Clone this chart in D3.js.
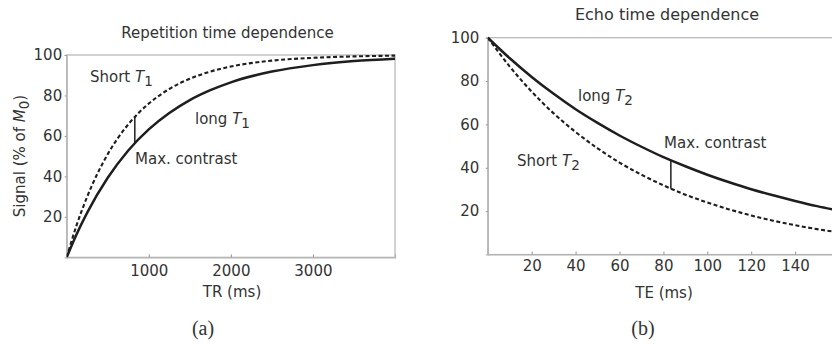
<!DOCTYPE html>
<html><head><meta charset="utf-8">
<script src="https://cdn.jsdelivr.net/npm/d3@7"></script>
<style>
html,body{margin:0;padding:0;background:#fff;}
text{font-family:"DejaVu Sans",sans-serif;fill:#333;}
</style></head>
<body>
<svg id="c" width="832" height="347"></svg>
<script>
// ---- Data ----
const trValues   = [0,125,250,500,750,1000,1250,1500,1750,2000,2500,3000,3500,4000];
const shortT1    = [0,16.4,30.0,51.0,65.7,76.0,83.2,88.3,91.8,94.3,97.2,98.6,99.3,99.7];
const longT1     = [0,11.8,22.1,39.3,52.8,63.2,71.3,77.7,82.6,86.5,91.8,95.0,97.0,98.2];
const trTicks    = [1000,2000,3000];
const signalTicksA = [20,40,60,80,100];
const contrastA  = {x:830, top:69.5, bottom:56.4};

const teValues   = [0,10,20,30,40,50,60,70,80,90,100,110,120,130,140,150,160];
const longT2     = [100,90.5,81.9,74.1,67.0,60.7,54.9,49.7,44.9,40.7,36.8,33.3,30.1,27.3,24.7,22.3,20.2];
const shortT2    = [100,86.7,75.1,65.1,56.5,49.0,42.4,36.8,31.9,27.6,24.0,20.8,18.0,15.6,13.5,11.7,10.2];
const teTicks    = [20,40,60,80,100,120,140];
const signalTicksB = [20,40,60,80,100];
const contrastB  = {x:83.4, top:43.4, bottom:30.3};

const svg = d3.select("#c");
const ink = "#1e1e1e", frame = "#b4b4b4";

function panel(o){
  const g = svg.append("g");
  const x = d3.scaleLinear().domain(o.xDomain).range(o.xRange);
  const y = d3.scaleLinear().domain([0,100]).range(o.yRange);
  g.append("rect").attr("x",o.xRange[0]).attr("y",o.yRange[1])
    .attr("width",o.xRange[1]-o.xRange[0]).attr("height",o.yRange[0]-o.yRange[1])
    .attr("fill","none").attr("stroke",frame).attr("stroke-width",1.2);
  const ya = g.append("g").attr("transform",`translate(${o.xRange[0]},0)`)
    .call(d3.axisLeft(y).tickValues(o.yTicks).tickSize(2).tickPadding(o.yPad).tickFormat(d3.format("d")));
  const xa = g.append("g").attr("transform",`translate(0,${o.yRange[0]})`)
    .call(d3.axisBottom(x).tickValues(o.xTicks).tickSize(-3).tickPadding(o.xPad).tickFormat(d3.format("d")));
  [ya,xa].forEach(a=>{
    a.select(".domain").attr("stroke",frame).attr("stroke-width",1.2);
    a.selectAll(".tick line").attr("stroke","#999");
    a.selectAll(".tick text").style("font-family","'DejaVu Sans',sans-serif")
      .style("font-size","15px").attr("fill","#333");
  });
  const line = d3.line().x(d=>x(d[0])).y(d=>y(d[1])).curve(d3.curveMonotoneX);
  const clip = "clip"+o.id;
  g.append("clipPath").attr("id",clip).append("rect")
    .attr("x",o.xRange[0]).attr("y",o.yRange[1]-3)
    .attr("width",o.xRange[1]-o.xRange[0]).attr("height",o.yRange[0]-o.yRange[1]+3);
  const cg = g.append("g").attr("clip-path",`url(#${clip})`);
  cg.append("path").datum(o.xs.map((v,i)=>[v,o.solid[i]]))
    .attr("d",line).attr("fill","none").attr("stroke",ink).attr("stroke-width",2.5);
  cg.append("path").datum(o.xs.map((v,i)=>[v,o.dashed[i]]))
    .attr("d",line).attr("fill","none").attr("stroke",ink).attr("stroke-width",2.1)
    .attr("stroke-dasharray","4,2.5");
  g.append("line").attr("x1",x(o.contrast.x)).attr("x2",x(o.contrast.x))
    .attr("y1",y(o.contrast.top)).attr("y2",y(o.contrast.bottom))
    .attr("stroke",ink).attr("stroke-width",1.5);
  return {g,x,y};
}

function label(x,y,pre,sub,size){
  const t = svg.append("text").attr("x",x).attr("y",y).style("font-size",(size||15)+"px");
  t.append("tspan").text(pre);
  if(sub){
    t.append("tspan").style("font-style","italic").text("T");
    t.append("tspan").attr("dy","0.3em").style("font-size","0.9em").text(sub);
  }
  return t;
}

panel({id:"a", xDomain:[0,4000], xRange:[66.7,395], yRange:[257.3,55],
  xTicks:trTicks, yTicks:signalTicksA, yPad:2.5, xPad:8,
  xs:trValues, solid:longT1, dashed:shortT1, contrast:contrastA});
panel({id:"b", xDomain:[0,160], xRange:[487.8,839], yRange:[254.5,37.7],
  xTicks:teTicks, yTicks:signalTicksB, yPad:6.5, xPad:5.6,
  xs:teValues, solid:longT2, dashed:shortT2, contrast:contrastB});

svg.append("text").attr("x",227.5).attr("y",37.5).attr("text-anchor","middle")
  .style("font-size","15px").text("Repetition time dependence");
svg.append("text").attr("x",667).attr("y",20).attr("text-anchor","middle")
  .style("font-size","16px").text("Echo time dependence");

svg.append("text").attr("x",232).attr("y",297).attr("text-anchor","middle")
  .style("font-size","15px").text("TR (ms)");
svg.append("text").attr("x",664).attr("y",297.5).attr("text-anchor","middle")
  .style("font-size","15px").text("TE (ms)");
const yl = svg.append("text").attr("transform","translate(25,156) rotate(-90)")
  .attr("text-anchor","middle").style("font-size","15px");
yl.append("tspan").text("Signal (% of ");
yl.append("tspan").style("font-style","italic").text("M");
yl.append("tspan").attr("dy","0.3em").style("font-size","0.9em").text("0");
yl.append("tspan").attr("dy","-0.3em").text(")");

label(90,82,"Short ","1");
label(195,124,"long ","1");
label(135,163.5,"Max. contrast");
label(578,101,"long ","2");
label(664,147.5,"Max. contrast");
label(517,166,"Short ","2");

svg.append("text").attr("x",203).attr("y",335).attr("text-anchor","middle")
  .style("font-family","'Liberation Serif',serif").style("font-size","20px").text("(a)");
svg.append("text").attr("x",643).attr("y",335).attr("text-anchor","middle")
  .style("font-family","'Liberation Serif',serif").style("font-size","20px").text("(b)");
</script>
</body></html>
